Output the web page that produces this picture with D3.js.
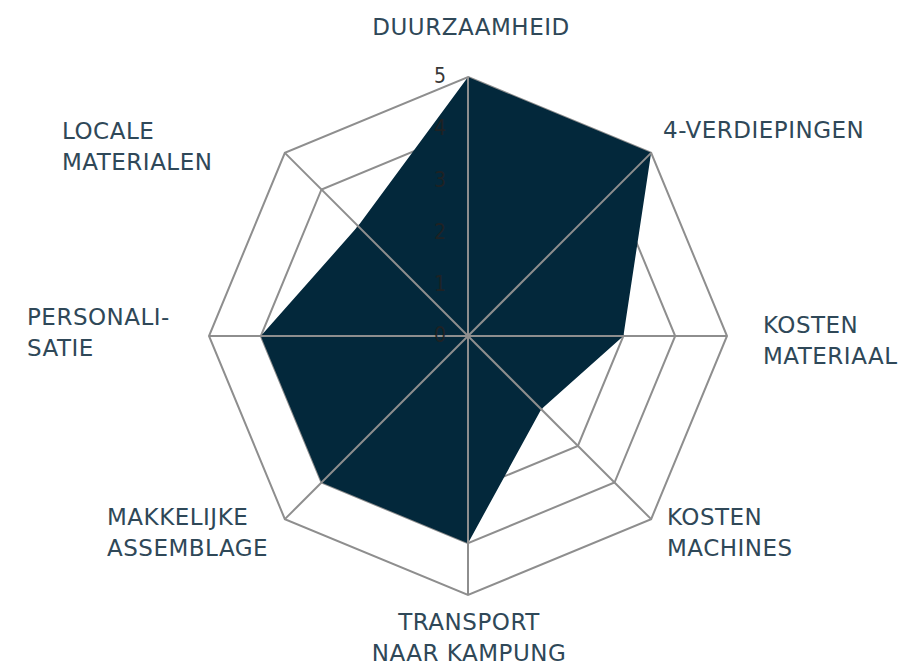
<!DOCTYPE html>
<html>
<head>
<meta charset="utf-8">
<script src="https://cdnjs.cloudflare.com/ajax/libs/d3/7.8.5/d3.min.js"></script>
<style>
  html, body { margin: 0; padding: 0; background: #ffffff; }
  svg { display: block; }
  .axis-label { font-family: "DejaVu Sans", sans-serif; font-size: 23px; letter-spacing: 0.5px; fill: #2f4858; }
  .tick-label { font-family: "DejaVu Sans Condensed", "DejaVu Sans", sans-serif; font-size: 21px; fill: #222222; }
</style>
</head>
<body>
<svg id="chart" width="909" height="667"></svg>
<script>
// Criteria around the radar, clockwise from the top
const categories = [
  ["DUURZAAMHEID"],
  ["4-VERDIEPINGEN"],
  ["KOSTEN", "MATERIAAL"],
  ["KOSTEN", "MACHINES"],
  ["TRANSPORT", "NAAR KAMPUNG"],
  ["MAKKELIJKE", "ASSEMBLAGE"],
  ["PERSONALI-", "SATIE"],
  ["LOCALE", "MATERIALEN"]
];
// Score per criterion (0-5)
const scores = [5, 5, 3, 2, 4, 4, 4, 3];
// Scale levels and their labels
const levels = [1, 2, 3, 4, 5];
const tickLabels = ["0", "1", "2", "3", "4", "5"];

const cx = 468, cy = 336, outerR = 259;
const svg = d3.select("#chart");
const g = svg.append("g").attr("transform", `translate(${cx},${cy})`);

const r = d3.scaleLinear().domain([0, 5]).range([0, outerR]);
const angle = d3.scaleLinear().domain([0, categories.length]).range([0, 2 * Math.PI]);

const radial = d3.lineRadial()
  .angle((d, i) => angle(i))
  .radius(d => r(d))
  .curve(d3.curveLinearClosed);

// Concentric octagons
g.selectAll("path.level")
  .data(levels)
  .join("path")
  .attr("class", "level")
  .attr("d", lv => radial(categories.map(() => lv)))
  .attr("fill", "none")
  .attr("stroke", "#8e8e8e")
  .attr("stroke-width", 2);

// Score area
g.append("path")
  .attr("d", radial(scores))
  .attr("fill", "#03283b")
  .attr("stroke", "none");

// Spokes drawn over the area
g.selectAll("line.spoke")
  .data(categories)
  .join("line")
  .attr("class", "spoke")
  .attr("x1", 0).attr("y1", 0)
  .attr("x2", (d, i) => r(5) * Math.sin(angle(i)))
  .attr("y2", (d, i) => -r(5) * Math.cos(angle(i)))
  .attr("stroke", "#8e8e8e")
  .attr("stroke-width", 2);

// Scale labels along the vertical axis
g.selectAll("text.tick-label")
  .data(tickLabels)
  .join("text")
  .attr("class", "tick-label")
  .attr("x", -22)
  .attr("y", (d, i) => -r(i))
  .attr("dy", "0.3em")
  .attr("text-anchor", "end")
  .attr("opacity", 0.9)
  .text(d => d);

// Criterion labels
const labelPos = [
  { x: 471, y: 35, anchor: "middle" },
  { x: 663, y: 138, anchor: "start" },
  { x: 763, y: 333, anchor: "start" },
  { x: 667, y: 525, anchor: "start" },
  { x: 469, y: 630, anchor: "middle" },
  { x: 107, y: 525, anchor: "start" },
  { x: 27, y: 325, anchor: "start" },
  { x: 62, y: 139, anchor: "start" }
];
const lineGap = 31;
categories.forEach((lines, i) => {
  const p = labelPos[i];
  const t = svg.append("text")
    .attr("class", "axis-label")
    .attr("text-anchor", p.anchor);
  lines.forEach((ln, j) => {
    t.append("tspan").attr("x", p.x).attr("y", p.y + j * lineGap).text(ln);
  });
});
</script>
</body>
</html>
